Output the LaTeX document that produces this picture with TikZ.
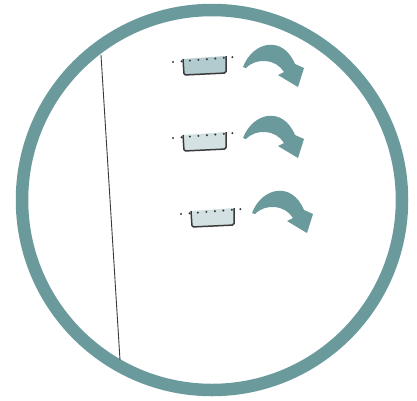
\documentclass[tikz,border=0pt]{standalone}
\definecolor{ringteal}{HTML}{6A9A9C}
\definecolor{tubdark}{HTML}{B2CBCE}
\definecolor{tublight}{HTML}{D3E1E2}
\definecolor{inkgray}{HTML}{3A3A3A}
\tikzset{
  tubwall/.style={draw=inkgray, line width=1.5pt, line join=round, rounded corners=1.5pt},
  waterline/.style={inkgray, line width=2.3pt, dash pattern=on 0pt off 8.5pt, line cap=round},
  pics/tub/.style={code={
    \fill[#1, rounded corners=1.5pt] (0,3) -- (1,19) -- (43,17) -- (43,0) -- cycle;
    \draw[tubwall] (0,3) -- (1,19) -- (43,17) -- (43,0);
    \draw[waterline] (-10,6) -- (51,1);
  }},
  pics/turnarrow/.style={code={
    \fill[ringteal] (0,0) .. controls (10,-26) and (40,-32) .. (52,-3)
      -- (61,1) -- (55,20) -- (35,8) -- (41,5)
      .. controls (33,-8) and (14,-10) .. (3,1) -- cycle;
  }}
}
\begin{document}
\begin{tikzpicture}[x=1pt,y=-1pt]
\useasboundingbox (0,0) rectangle (417,400);

% ring
\draw[ringteal, line width=12.5pt] (212,200) circle (190);

% wall line
\draw[inkgray, line width=0.9pt] (101,55) -- (120,360);

% tubs
\pic at (183,56) {tub=tubdark};
\pic at (183,132) {tub=tublight};
\pic at (191,208) {tub=tublight};

% arrows
\pic at (243,67) {turnarrow};
\pic at (243,138) {turnarrow};
\pic at (252,213) {turnarrow};

\end{tikzpicture}
\end{document}
